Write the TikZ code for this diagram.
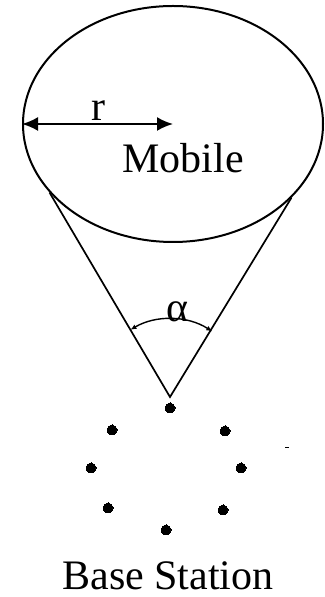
\documentclass[tikz,border=0pt]{standalone}
\usepackage{fontspec}
\setmainfont{Liberation Serif}
\usepackage{tikz}
\usetikzlibrary{shapes.geometric,arrows.meta,positioning,calc}
\tikzset{
  cell/.style={ellipse, draw, line width=2pt, minimum width=300pt,
              minimum height=236pt, inner sep=0pt},
  lbl/.style={font=\fontsize{42}{48}\selectfont, inner sep=0pt},
  edge/.style={line width=1.7pt},
  arr/.style={{Latex[length=16pt,width=14pt]}-{Latex[length=16pt,width=14pt]}, line width=2pt},
  ang/.style={{Latex[length=6pt,width=5pt]}-{Latex[length=6pt,width=5pt]}, line width=1.4pt},
  ant/.style={circle, draw, fill, line width=0pt, inner sep=0pt, minimum size=10pt}
}
\begin{document}
\begin{tikzpicture}[x=1pt, y=1pt]
  \useasboundingbox (0,0) rectangle (324,597);
  \node[cell] (mob) at (173,473) {};
  \node[lbl, anchor=base] (mobtxt) at (183,424) {Mobile};
  \node[lbl, anchor=base] (rtxt) at (98,476) {r};
  \draw[arr] (mob.west) -- (mob.center);
  \coordinate (apex) at (170,200);
  \draw[edge] (mob.209) -- (apex) -- (mob.328);
  \draw[ang] ([shift={(120.5:78)}]apex) arc[start angle=120.5, end angle=57.2, radius=78];
  \node[lbl, anchor=base] (alpha) at (177,275) {α};
  \foreach \x/\y [count=\i] in {170/189, 225/166, 241/129, 223/87, 166/67, 108/89, 91/129, 112/167}
    \node[ant] (d\i) at (\x,\y) {};
  \draw[line width=1pt] (285,149) -- (289,149);
  \node[lbl, anchor=base] (bs) at (168,8) {Base Station};
\end{tikzpicture}
\end{document}
